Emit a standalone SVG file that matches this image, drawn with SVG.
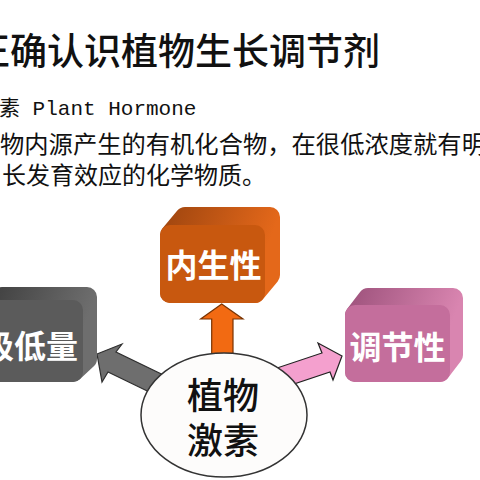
<svg xmlns="http://www.w3.org/2000/svg" width="480" height="480" viewBox="0 0 480 480">
<defs>
<style>
.t{font-family:"Noto Sans CJK SC","Noto Sans CJK JP",sans-serif;fill:#111}
.lbl{font-family:"Noto Sans CJK SC","Noto Sans CJK JP",sans-serif;font-weight:bold;fill:#fff;font-size:32px;text-anchor:middle}
.ctr{font-family:"Noto Sans CJK SC","Noto Sans CJK JP",sans-serif;font-weight:500;fill:#111;font-size:36px;text-anchor:middle}
.arr{stroke-width:1.2;stroke-linejoin:miter}
</style>
<linearGradient id="gO" x1="0" y1="0" x2="1" y2="0.3"><stop offset="0" stop-color="#A44810"/><stop offset="1" stop-color="#E4681A"/></linearGradient>
<linearGradient id="gG" x1="0" y1="0" x2="1" y2="0.3"><stop offset="0" stop-color="#404040"/><stop offset="1" stop-color="#6e6e6e"/></linearGradient>
<linearGradient id="gP" x1="0" y1="0" x2="1" y2="0.3"><stop offset="0" stop-color="#A25680"/><stop offset="1" stop-color="#D985B0"/></linearGradient>
</defs>
<rect width="480" height="480" fill="#fff"/>
<g id="title">
<text class="t" x="-27" y="65" font-size="37" font-weight="500">正确认识植物生长调节剂</text>
<text class="t" x="-1" y="115" font-size="21" style="font-family:'Liberation Mono','Noto Sans CJK SC',monospace">素 Plant Hormone</text>
<text class="t" x="0" y="153" font-size="24.3">物内源产生的有机化合物，在很低浓度就有明</text>
<text class="t" x="2" y="184" font-size="24">长发育效应的化学物质。</text>
</g>
<g id="connectors">
<polygon class="arr" fill="#F26A12" stroke="#7A3300" points="221.7,304 243,319 233,319 233,372 211.7,372 211.7,319 200.7,319"/>
<polygon class="arr" fill="#6E6E6E" stroke="#2E2E2E" points="97,354 122,344 116,352 180,383 172,403 108,372 102,382"/>
<polygon class="arr" fill="#F4A0CE" stroke="#222" points="342,356 318,343 322,353 262,373 270,392 330,372 333,380"/>
</g>
<g id="node-neisheng">
<path d="M170,293 L170,235 L185,217 L270,217 L270,275 L255,293 Z" fill="url(#gO)" stroke="url(#gO)" stroke-width="20" stroke-linejoin="round"/>
<rect x="160" y="225" width="105" height="78" rx="10" fill="#C8580F"/>
<text class="lbl" x="213.5" y="277">内生性</text>
</g>
<g id="node-jidiliang">
<path d="M-12,372 L-12,310 L2,297 L87,297 L87,359 L73,372 Z" fill="url(#gG)" stroke="url(#gG)" stroke-width="20" stroke-linejoin="round"/>
<rect x="-22" y="300" width="105" height="82" rx="10" fill="#5B5B5B"/>
<text class="lbl" x="30" y="358">极低量</text>
</g>
<g id="node-tiaojie">
<path d="M355,372 L355,315 L368,298 L453,298 L453,355 L440,372 Z" fill="url(#gP)" stroke="url(#gP)" stroke-width="20" stroke-linejoin="round"/>
<rect x="345" y="305" width="105" height="77" rx="10" fill="#C46E9C"/>
<text class="lbl" x="397.5" y="359">调节性</text>
</g>
<g id="node-center">
<ellipse cx="224" cy="415" rx="83" ry="62" fill="#FDFCFB" stroke="#333" stroke-width="1.5"/>
<text class="ctr" x="223" y="409">植物</text>
<text class="ctr" x="223" y="454">激素</text>
</g>
</svg>
